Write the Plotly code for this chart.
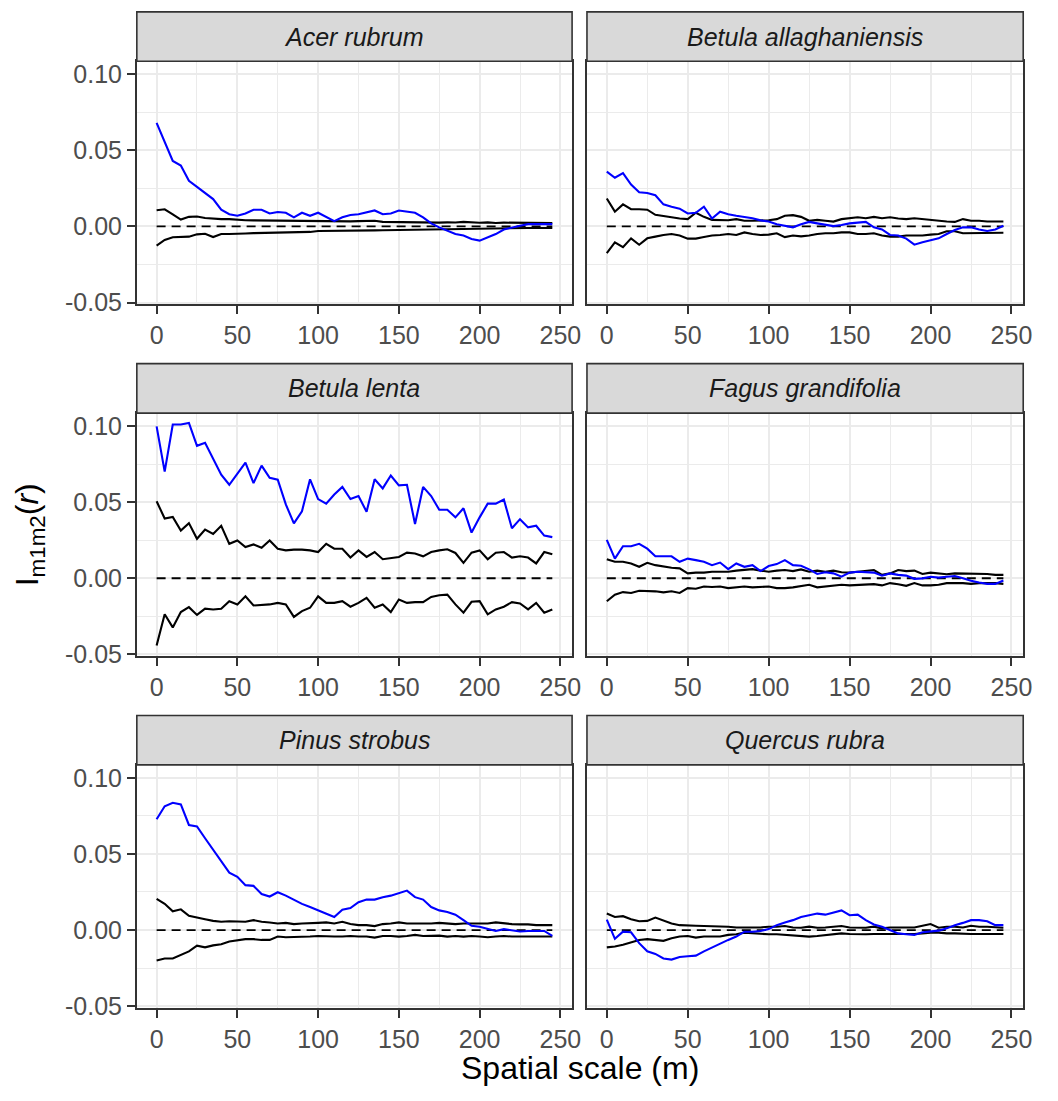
import plotly.graph_objects as go

# ---------------- data ----------------
r = [0, 5, 10, 15, 20, 25, 30, 35, 40, 45, 50, 55, 60, 65, 70, 75, 80, 85, 90, 95,
     100, 105, 110, 115, 120, 125, 130, 135, 140, 145, 150, 155, 160, 165, 170, 175,
     180, 185, 190, 195, 200, 205, 210, 215, 220, 225, 230, 235, 240, 245]

species = ["Acer rubrum", "Betula allaghaniensis", "Betula lenta",
           "Fagus grandifolia", "Pinus strobus", "Quercus rubra"]

acer_obs = [0.068, 0.055, 0.043, 0.040, 0.030, 0.026, 0.022, 0.018, 0.011, 0.008,
            0.007, 0.0085, 0.011, 0.011, 0.0085, 0.0095, 0.009, 0.006, 0.009, 0.007,
            0.009, 0.006, 0.0035, 0.006, 0.0075, 0.008, 0.009, 0.0105, 0.008, 0.0085,
            0.0105, 0.0095, 0.009, 0.006, 0.002, -0.0006, -0.003, -0.005, -0.006, -0.0082,
            -0.0093, -0.007, -0.005, -0.002, -0.0006, 0.0005, 0.0015, 0.0015, 0.0015, 0.0015]
acer_hi = [0.0106, 0.0113, 0.0080, 0.0045, 0.0063, 0.0065, 0.0055, 0.0050, 0.0048, 0.0048,
           0.0043, 0.0041, 0.0040, 0.0039, 0.0040, 0.0037, 0.0038, 0.0036, 0.0037, 0.0036,
           0.0035, 0.0034, 0.0033, 0.0034, 0.0033, 0.0035, 0.0034, 0.0037, 0.0030, 0.0029,
           0.0028, 0.0029, 0.0027, 0.0026, 0.0028, 0.0025, 0.0027, 0.0026, 0.0030, 0.0025,
           0.0024, 0.0027, 0.0023, 0.0025, 0.0024, 0.0023, 0.0024, 0.0023, 0.0022, 0.0022]
acer_lo = [-0.0126, -0.0089, -0.0071, -0.0070, -0.0067, -0.0052, -0.0048, -0.0070, -0.0050, -0.0050,
           -0.0046, -0.0046, -0.0044, -0.0043, -0.0042, -0.0040, -0.0040, -0.0039, -0.0037, -0.0036,
           -0.0030, -0.0030, -0.0029, -0.0028, -0.0028, -0.0027, -0.0028, -0.0026, -0.0025, -0.0024,
           -0.0022, -0.0020, -0.0019, -0.0018, -0.0017, -0.0018, -0.0016, -0.0017, -0.0015, -0.0014,
           -0.0016, -0.0013, -0.0012, -0.0012, -0.0011, -0.0011, -0.0010, -0.0010, -0.0010, -0.0010]

allag_obs = [0.036, 0.032, 0.035, 0.0275, 0.0225, 0.022, 0.0205, 0.0145, 0.013, 0.0117,
             0.0085, 0.009, 0.013, 0.0052, 0.0097, 0.008, 0.007, 0.0063, 0.0054, 0.004,
             0.0032, 0.0015, 0.0004, -0.0006, 0.0015, 0.003, 0.002, 0.0009, 0.0002, 0.0009,
             0.002, 0.0025, 0.003, -0.0006, -0.002, -0.0056, -0.006, -0.008, -0.012, -0.0104,
             -0.0089, -0.0078, -0.005, -0.0024, -0.0006, -0.0006, -0.002, -0.003, -0.002, 0.0004]
allag_hi = [0.0184, 0.0097, 0.0145, 0.0113, 0.0113, 0.011, 0.0076, 0.007, 0.006, 0.0052,
            0.0048, 0.009, 0.0063, 0.0043, 0.0041, 0.0041, 0.0048, 0.0037, 0.0037, 0.0037,
            0.0041, 0.0048, 0.007, 0.0074, 0.0063, 0.0037, 0.0043, 0.0037, 0.0032, 0.0048,
            0.0054, 0.006, 0.0054, 0.0063, 0.0054, 0.006, 0.0052, 0.0048, 0.0054, 0.0048,
            0.0043, 0.0041, 0.0032, 0.003, 0.0048, 0.0037, 0.0037, 0.0032, 0.003, 0.0032]
allag_lo = [-0.0175, -0.0104, -0.0136, -0.0078, -0.012, -0.0078, -0.0067, -0.0056, -0.005, -0.006,
            -0.008, -0.008, -0.007, -0.006, -0.0056, -0.005, -0.0056, -0.0039, -0.005, -0.0056,
            -0.0054, -0.0045, -0.007, -0.006, -0.0065, -0.006, -0.005, -0.0045, -0.0045, -0.0039,
            -0.0039, -0.005, -0.005, -0.0045, -0.006, -0.0067, -0.0067, -0.006, -0.006, -0.006,
            -0.0054, -0.005, -0.0032, -0.0032, -0.0045, -0.0045, -0.0045, -0.0045, -0.0045, -0.0041]

lenta_obs = [0.0998, 0.070, 0.101, 0.101, 0.102, 0.087, 0.089, 0.0787, 0.068, 0.0614,
             0.069, 0.076, 0.0625, 0.074, 0.066, 0.0647, 0.0485, 0.036, 0.044, 0.065,
             0.052, 0.049, 0.055, 0.060, 0.052, 0.054, 0.0437, 0.065, 0.059, 0.0675,
             0.061, 0.0614, 0.0356, 0.060, 0.054, 0.045, 0.045, 0.040, 0.046, 0.030,
             0.040, 0.049, 0.049, 0.0517, 0.0328, 0.0388, 0.0334, 0.0345, 0.028, 0.027]
lenta_hi = [0.0506, 0.0392, 0.0403, 0.0313, 0.0362, 0.0259, 0.0319, 0.0291, 0.0345, 0.0226,
            0.0248, 0.0205, 0.0222, 0.0200, 0.0248, 0.0194, 0.0183, 0.0188, 0.0188, 0.0183,
            0.0172, 0.0226, 0.0194, 0.0194, 0.0136, 0.0183, 0.0140, 0.0172, 0.0125, 0.0134,
            0.0140, 0.0168, 0.0162, 0.0144, 0.0172, 0.0183, 0.0190, 0.0166, 0.0101, 0.0168,
            0.0183, 0.0125, 0.0168, 0.0172, 0.0136, 0.0144, 0.0136, 0.0097, 0.0172, 0.0157]
lenta_lo = [-0.0442, -0.0237, -0.0323, -0.0222, -0.019, -0.0241, -0.020, -0.0205, -0.020, -0.0151,
            -0.0172, -0.0119, -0.0179, -0.0177, -0.0172, -0.0162, -0.0172, -0.0254, -0.0216, -0.0194,
            -0.0119, -0.0162, -0.0162, -0.0151, -0.0187, -0.0162, -0.0129, -0.0194, -0.0172, -0.0222,
            -0.014, -0.0162, -0.0157, -0.0157, -0.0123, -0.0112, -0.0108, -0.0172, -0.0226, -0.0155,
            -0.0151, -0.0237, -0.0205, -0.0187, -0.0157, -0.0166, -0.0205, -0.0162, -0.0226, -0.0205]

fagus_obs = [0.0252, 0.0129, 0.021, 0.021, 0.0226, 0.0194, 0.0144, 0.0144, 0.0144, 0.0108,
             0.0129, 0.0119, 0.0108, 0.0086, 0.0103, 0.006, 0.0097, 0.0075, 0.0086, 0.0047,
             0.008, 0.0093, 0.0119, 0.0086, 0.0082, 0.0058, 0.0028, 0.0039, 0.0032, 0.001,
             0.0037, 0.0043, 0.0039, 0.0037, 0.0017, 0.0032, 0.0022, 0.0017, -0.0004, -0.0001,
             0.001, 0.0004, 0.001, 0.0015, 0.0, -0.0017, -0.0028, -0.0037, -0.0037, -0.0015]
fagus_hi = [0.0125, 0.0108, 0.0108, 0.0097, 0.0075, 0.0101, 0.0086, 0.0075, 0.0069, 0.0065,
            0.0032, 0.0037, 0.0037, 0.0043, 0.0043, 0.0043, 0.005, 0.0054, 0.006, 0.005,
            0.0043, 0.005, 0.0054, 0.0047, 0.0058, 0.0043, 0.005, 0.0043, 0.005, 0.0039,
            0.0037, 0.0043, 0.0047, 0.0054, 0.0022, 0.0032, 0.0054, 0.0047, 0.005, 0.0028,
            0.0037, 0.0032, 0.0026, 0.0032, 0.0032, 0.0028, 0.0028, 0.0028, 0.0022, 0.0022]
fagus_lo = [-0.0151, -0.0108, -0.0091, -0.0097, -0.0082, -0.0082, -0.0086, -0.0093, -0.0086, -0.0097,
            -0.0065, -0.0069, -0.0054, -0.0058, -0.0054, -0.0065, -0.0058, -0.0054, -0.006, -0.0058,
            -0.0054, -0.0065, -0.0065, -0.006, -0.005, -0.0043, -0.006, -0.0054, -0.005, -0.0043,
            -0.0047, -0.0043, -0.0039, -0.0039, -0.0047, -0.0032, -0.0039, -0.005, -0.0032, -0.0047,
            -0.0047, -0.0043, -0.0032, -0.0032, -0.0032, -0.0037, -0.0032, -0.0032, -0.0032, -0.0037]

pinus_obs = [0.0728, 0.0813, 0.0836, 0.0825, 0.069, 0.068, 0.0603, 0.0528, 0.0453, 0.0377,
             0.035, 0.0295, 0.029, 0.0237, 0.022, 0.0248, 0.0226, 0.0198, 0.0172, 0.0151,
             0.0129, 0.0108, 0.0086, 0.0134, 0.0144, 0.0183, 0.020, 0.020, 0.0216, 0.0226,
             0.0241, 0.0259, 0.0216, 0.020, 0.0151, 0.0129, 0.0119, 0.0101, 0.0065, 0.0028,
             0.0022, 0.0006, -0.0006, 0.0006, 0.0, -0.001, -0.0006, -0.0006, -0.0006, -0.0039]
pinus_hi = [0.0205, 0.0172, 0.0123, 0.0136, 0.0093, 0.008, 0.0071, 0.006, 0.0054, 0.0058,
            0.0058, 0.0054, 0.0065, 0.0054, 0.005, 0.0043, 0.0047, 0.0039, 0.0043, 0.0043,
            0.0047, 0.005, 0.0043, 0.0054, 0.0039, 0.0032, 0.0032, 0.0026, 0.0039, 0.0043,
            0.005, 0.0043, 0.0043, 0.0039, 0.0043, 0.0047, 0.0043, 0.0039, 0.0043, 0.0043,
            0.0039, 0.0043, 0.005, 0.0043, 0.0039, 0.0037, 0.0037, 0.0032, 0.0032, 0.0032]
pinus_lo = [-0.020, -0.0187, -0.0187, -0.0162, -0.014, -0.0103, -0.0114, -0.0101, -0.0093, -0.0075,
            -0.0069, -0.006, -0.006, -0.0065, -0.0065, -0.0043, -0.0047, -0.0047, -0.0043, -0.0043,
            -0.0039, -0.0043, -0.0043, -0.0043, -0.0039, -0.0043, -0.0043, -0.005, -0.0039, -0.0039,
            -0.0043, -0.0039, -0.0032, -0.0039, -0.0039, -0.0037, -0.0043, -0.0039, -0.0043, -0.0039,
            -0.0043, -0.0047, -0.0043, -0.0039, -0.0043, -0.0043, -0.0039, -0.0039, -0.0043, -0.0043]

quercus_obs = [0.0069, -0.0058, -0.0011, -0.0015, -0.0086, -0.014, -0.0157, -0.0187, -0.0194, -0.0177,
               -0.0172, -0.0168, -0.014, -0.0114, -0.0086, -0.0065, -0.0043, -0.0011, -0.0011, -0.0006,
               0.0006, 0.0032, 0.005, 0.0065, 0.0086, 0.0097, 0.0108, 0.0101, 0.0114, 0.0129,
               0.0097, 0.0101, 0.0065, 0.0037, 0.0022, 0.0, -0.0022, -0.0028, -0.0032, -0.0015,
               -0.0011, -0.0004, 0.0011, 0.0032, 0.0047, 0.0065, 0.0065, 0.0058, 0.0032, 0.0032]
quercus_hi = [0.0108, 0.0086, 0.0091, 0.0071, 0.0058, 0.006, 0.0082, 0.0065, 0.0043, 0.0032,
              0.0028, 0.0028, 0.0026, 0.0026, 0.0022, 0.0022, 0.0017, 0.0015, 0.0017, 0.0017,
              0.0022, 0.0022, 0.0026, 0.0017, 0.0015, 0.0022, 0.0015, 0.0017, 0.0022, 0.0026,
              0.0017, 0.0015, 0.0015, 0.0022, 0.0011, 0.0017, 0.0017, 0.0017, 0.0017, 0.0028,
              0.0039, 0.0015, 0.0022, 0.0022, 0.0017, 0.0028, 0.0022, 0.0022, 0.0017, 0.0015]
quercus_lo = [-0.0114, -0.0108, -0.0097, -0.0082, -0.0065, -0.006, -0.0065, -0.0071, -0.0054, -0.0043,
              -0.0039, -0.005, -0.0043, -0.0043, -0.0043, -0.0032, -0.0028, -0.0017, -0.0022, -0.0026,
              -0.0028, -0.0028, -0.0032, -0.0032, -0.0039, -0.0043, -0.0039, -0.0032, -0.0028, -0.0022,
              -0.0026, -0.0028, -0.0028, -0.0026, -0.0026, -0.0026, -0.0028, -0.0026, -0.0026, -0.0022,
              -0.0017, -0.0017, -0.0022, -0.0022, -0.0026, -0.0026, -0.0026, -0.0026, -0.0026, -0.0026]

observed = [acer_obs, allag_obs, lenta_obs, fagus_obs, pinus_obs, quercus_obs]
upper = [acer_hi, allag_hi, lenta_hi, fagus_hi, pinus_hi, quercus_hi]
lower = [acer_lo, allag_lo, lenta_lo, fagus_lo, pinus_lo, quercus_lo]

x_ticks = [0, 50, 100, 150, 200, 250]
y_ticks = [-0.05, 0.00, 0.05, 0.10]
y_ticklabels = ["-0.05", "0.00", "0.05", "0.10"]

# ---------------- layout geometry (pixels) ----------------
W, H = 1058, 1101
col_px = [(138, 577), (592, 1032)]
row_px = [(61, 307), (417, 663), (773, 1019)]
strip_h = 50

FONT = "Liberation Sans, Arial, Helvetica, sans-serif"
GRID = "#EBEBEB"
BORDER = "#333333"
TICK_SIZE = 25

fig = go.Figure()
layout = dict(width=W, height=H, margin=dict(l=0, r=0, t=0, b=0),
              paper_bgcolor="white", plot_bgcolor="white", showlegend=False,
              font=dict(family=FONT))
shapes, annotations = [], []

for k, name in enumerate(species):
    row, col = divmod(k, 2)
    x0p, x1p = col_px[col]
    y0p, y1p = row_px[row]
    sfx = "" if k == 0 else str(k + 1)
    xa, ya = "x" + sfx, "y" + sfx

    layout["xaxis" + sfx] = dict(
        domain=[x0p / W, x1p / W], anchor=ya, range=[-12.25, 257.25],
        tickmode="array", tickvals=x_ticks, ticktext=[str(v) for v in x_ticks],
        ticks="outside", ticklen=8, tickwidth=1.6, tickcolor=BORDER,
        tickfont=dict(size=TICK_SIZE, color="#4D4D4D", family=FONT),
        showgrid=True, gridcolor=GRID, gridwidth=1.6,
        minor=dict(tickvals=[25, 75, 125, 175, 225], showgrid=True, gridcolor=GRID, gridwidth=0.8),
        zeroline=False, showline=True, mirror=True, linecolor=BORDER, linewidth=1.6)
    layout["yaxis" + sfx] = dict(
        domain=[1 - y1p / H, 1 - y0p / H], anchor=xa, range=[-0.0512, 0.1085],
        tickmode="array", tickvals=y_ticks, ticktext=y_ticklabels,
        showticklabels=(col == 0), ticks="outside" if col == 0 else "",
        ticklen=8, tickwidth=1.6, tickcolor=BORDER,
        tickfont=dict(size=TICK_SIZE, color="#4D4D4D", family=FONT),
        showgrid=True, gridcolor=GRID, gridwidth=1.6,
        minor=dict(tickvals=[-0.025, 0.025, 0.075], showgrid=True, gridcolor=GRID, gridwidth=0.8),
        zeroline=False, showline=True, mirror=True, linecolor=BORDER, linewidth=1.6)

    # reference line at zero
    fig.add_trace(go.Scatter(x=[r[0], r[-1]], y=[0, 0], mode="lines", xaxis=xa, yaxis=ya,
                             line=dict(color="black", width=1.8, dash="9px,6px"), hoverinfo="skip"))
    # envelopes
    fig.add_trace(go.Scatter(x=r, y=upper[k], mode="lines", xaxis=xa, yaxis=ya,
                             line=dict(color="black", width=2.1)))
    fig.add_trace(go.Scatter(x=r, y=lower[k], mode="lines", xaxis=xa, yaxis=ya,
                             line=dict(color="black", width=2.1)))
    # observed
    fig.add_trace(go.Scatter(x=r, y=observed[k], mode="lines", xaxis=xa, yaxis=ya,
                             line=dict(color="#0000FF", width=2.1)))

    # strip
    shapes.append(dict(type="rect", xref="paper", yref="paper",
                       x0=x0p / W, x1=x1p / W, y0=1 - y0p / H, y1=1 - (y0p - strip_h) / H,
                       fillcolor="#D9D9D9", line=dict(color=BORDER, width=1.6), layer="above"))
    annotations.append(dict(xref="paper", yref="paper", x=(x0p + x1p) / 2 / W,
                            y=1 - (y0p - strip_h / 2) / H, text="<i>%s</i>" % name,
                            showarrow=False, xanchor="center", yanchor="middle",
                            font=dict(size=25, color="#1A1A1A", family=FONT)))

annotations.append(dict(xref="paper", yref="paper", x=585 / W, y=1 - 1080 / H,
                        text="Spatial scale (m)", showarrow=False, xanchor="center", yanchor="middle",
                        font=dict(size=32, color="black", family=FONT)))
annotations.append(dict(xref="paper", yref="paper", x=30 / W, y=1 - 540 / H,
                        text="I<sub>m1m2</sub>(<i>r</i>)", showarrow=False, textangle=-90,
                        xanchor="center", yanchor="middle",
                        font=dict(size=32, color="black", family=FONT)))

layout["shapes"] = shapes
layout["annotations"] = annotations
fig.update_layout(**layout)
fig.write_html("out.html")
